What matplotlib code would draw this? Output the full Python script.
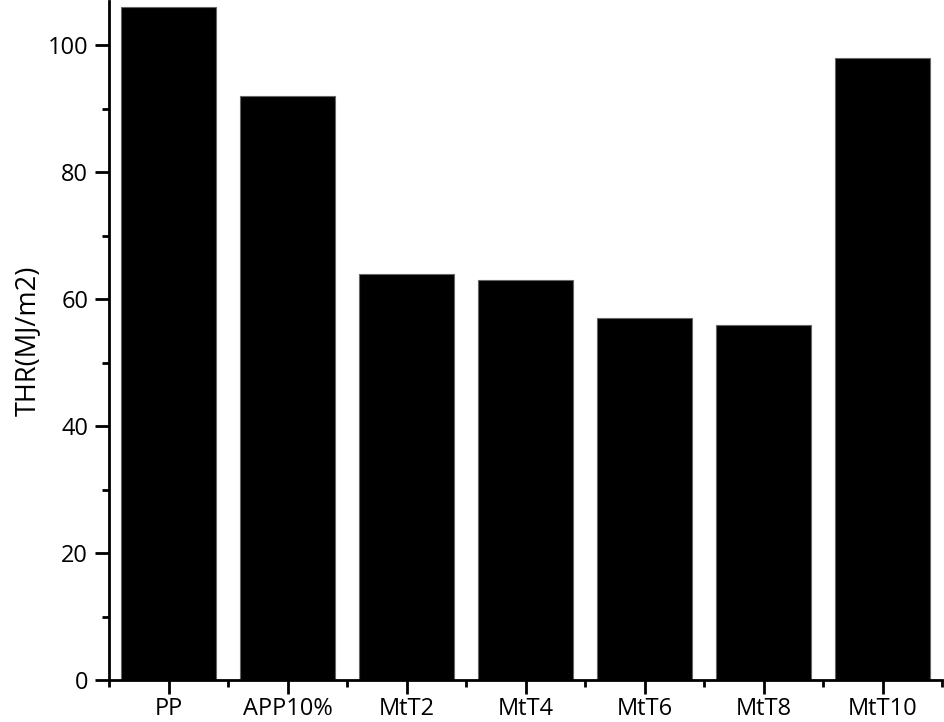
import matplotlib
matplotlib.use("Agg")
import matplotlib.pyplot as plt
from matplotlib.ticker import MultipleLocator, FixedLocator

categories = ["PP", "APP10%", "MtT2", "MtT4", "MtT6", "MtT8", "MtT10"]
thr_values = [106, 92, 64, 63, 57, 56, 98]
y_label = "THR(MJ/m2)"

plt.rcParams['font.family'] = ['Open Sans', 'DejaVu Sans']

fig = plt.figure(figsize=(9.44, 7.22), dpi=100)
ax = fig.add_axes([0.1155, 0.0582, 0.998 - 0.1155, 0.9986 - 0.0582])

x = list(range(len(categories)))
ax.bar(x, thr_values, width=0.8, color='black', edgecolor='#666666', linewidth=0.8)

ax.set_xlim(-0.5, len(categories) - 0.5)
ax.set_ylim(0, 107)

ax.set_xticks(x)
ax.set_xticklabels(categories)
ax.xaxis.set_minor_locator(FixedLocator([i - 0.5 for i in range(len(categories) + 1)]))
ax.yaxis.set_major_locator(MultipleLocator(20))
ax.yaxis.set_minor_locator(MultipleLocator(10))

for s in ['top', 'right']:
    ax.spines[s].set_visible(False)
for s in ['left', 'bottom']:
    ax.spines[s].set_linewidth(2)

ax.tick_params(which='major', direction='out', length=10, width=2, labelsize=17)
ax.tick_params(axis='y', which='major', pad=5)
ax.tick_params(axis='x', which='major', pad=2)
ax.tick_params(which='minor', direction='out', length=5, width=2)
ax.set_ylabel(y_label, fontsize=19.5, labelpad=4)

fig.savefig("out.png", dpi=100)
